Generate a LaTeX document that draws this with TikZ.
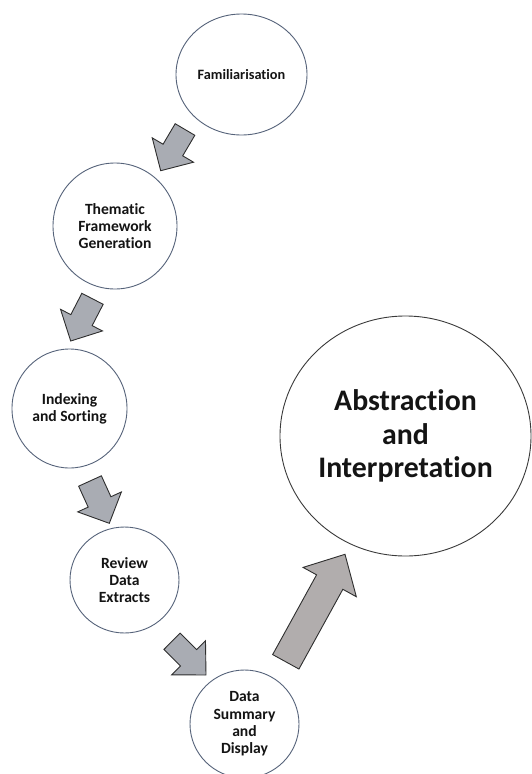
\documentclass[tikz,border=0pt]{standalone}
\usepackage{fontspec}
\setmainfont{Carlito}[Ligatures=NoCommon]
\usetikzlibrary{shapes.geometric,calc}

\definecolor{stageline}{HTML}{56637A}
\definecolor{finalline}{HTML}{3A3A3A}
\definecolor{stepfill}{HTML}{A9ACB3}
\definecolor{leapfill}{HTML}{B1ADAD}
\definecolor{arrowline}{HTML}{2E2E2E}
\definecolor{labeltext}{HTML}{141414}

\tikzset{
  stage/.style={ellipse, draw=stageline, line width=0.9pt, fill=white,
    inner sep=0pt, align=center, text=labeltext,
    font=\bfseries\fontsize{15.6}{17.3}\selectfont},
  finalstage/.style={stage, draw=finalline,
    font=\bfseries\fontsize{29.8}{33.5}\selectfont},
  stepblock/.style={draw=arrowline, line width=0.9pt, fill=stepfill, line join=miter},
  leapblock/.style={stepblock, fill=leapfill},
}

% block arrow: #1 style, #2 back centre, #3 tip,
% #4 half shaft width, #5 half head width, #6 head length
\newcommand{\blockarrow}[6]{%
  \coordinate (#2h) at ($(#3)!#6!(#2)$);
  \draw[#1] ($(#2)!#4!90:(#3)$) -- ($(#2h)!#4!90:(#3)$) -- ($(#2h)!#5!90:(#3)$)
    -- (#3) -- ($(#2h)!#5!-90:(#3)$) -- ($(#2h)!#4!-90:(#3)$)
    -- ($(#2)!#4!-90:(#3)$) -- cycle;
}

\begin{document}
\begin{tikzpicture}[x=1pt,y=-1pt]
  \useasboundingbox (0,0) rectangle (531,774);

  % stages
  \node[stage, minimum width=131pt, minimum height=121pt,
        font=\bfseries\fontsize{14.3}{17.3}\selectfont] (fam) at (241.5,74.5) {Familiarisation};
  \node[stage, minimum width=124pt, minimum height=126pt] (frame) at (115,226) {Thematic\\Framework\\Generation};
  \node[stage, minimum width=115pt, minimum height=119pt] (index) at (69.5,408.5) {Indexing\\and Sorting};
  \node[stage, minimum width=109pt, minimum height=106pt] (review) at (124.5,580) {Review\\Data\\Extracts};
  \node[stage, minimum width=109pt, minimum height=108pt] (summary) at (244.5,724) {Data\\Summary\\and\\Display};
  \node[finalstage, minimum width=251pt, minimum height=240pt] (abstract) at (405.5,436) {Abstraction\\and\\Interpretation};

  % arrow ends
  \coordinate (b1) at (185,129.5);   \coordinate (t1) at (160.7,170.7);
  \coordinate (b2) at (92.5,298.8);  \coordinate (t2) at (70.7,341);
  \coordinate (b3) at (90,481);      \coordinate (t3) at (109.3,523.3);
  \coordinate (b4) at (172,641.3);   \coordinate (t4) at (206,675);
  \coordinate (b5) at (285.8,661.8); \coordinate (t5) at (345,554.3);

  % arrows between stages
  \blockarrow{stepblock}{b1}{t1}{11.4pt}{24pt}{24pt}
  \blockarrow{stepblock}{b2}{t2}{12pt}{23.6pt}{23.5pt}
  \blockarrow{stepblock}{b3}{t3}{12.5pt}{24pt}{23.5pt}
  \blockarrow{stepblock}{b4}{t4}{11.5pt}{24pt}{24.5pt}
  \blockarrow{leapblock}{b5}{t5}{15pt}{30.4pt}{31.7pt}
\end{tikzpicture}
\end{document}
